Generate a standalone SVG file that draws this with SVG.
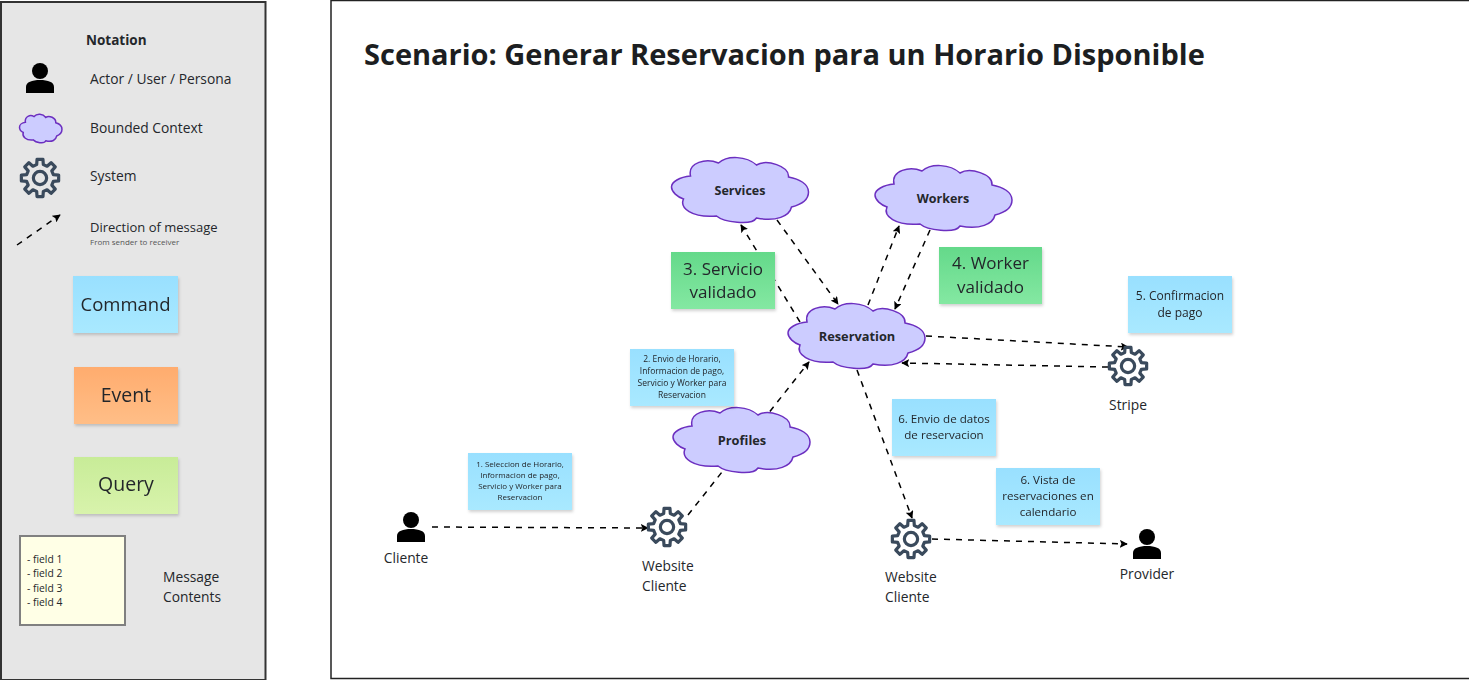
<svg xmlns="http://www.w3.org/2000/svg" width="1469" height="680" viewBox="0 0 1469 680">
<style>
text{font-family:"Open Sans","Noto Sans","Liberation Sans",sans-serif;fill:#24272b}
.b{font-weight:700}
.m{text-anchor:middle}
.t14{font-size:13.800px}
.t13{font-size:13px}
.cloud{fill:#ccccff;stroke:#6c2fc0;stroke-width:1.5;vector-effect:non-scaling-stroke}
.gear{fill:none;stroke:#3a4a5c;stroke-width:3.200;stroke-linejoin:round;vector-effect:non-scaling-stroke}
.c{fill:none;stroke:#000;stroke-width:1.5;stroke-dasharray:6 6;marker-end:url(#ah)}
.note{filter:url(#sh)}
</style>
<defs>
<marker id="ah" viewBox="0 0 10 10" refX="9" refY="5" markerWidth="8" markerHeight="8" markerUnits="userSpaceOnUse" orient="auto"><path d="M0 0L10 5L0 10L2 5Z" fill="#000"/></marker>
<filter id="sh" x="-10%" y="-10%" width="125%" height="125%"><feDropShadow dx="1" dy="2" stdDeviation="1.5" flood-color="#000" flood-opacity=".18"/></filter>
<linearGradient id="gb" x1="0" y1="0" x2="0" y2="1"><stop offset="0" stop-color="#99e0ff"/><stop offset="1" stop-color="#a9e9ff"/></linearGradient>
<linearGradient id="go" x1="0" y1="0" x2="0" y2="1"><stop offset="0" stop-color="#ffac6e"/><stop offset="1" stop-color="#ffbe87"/></linearGradient>
<linearGradient id="gq" x1="0" y1="0" x2="0" y2="1"><stop offset="0" stop-color="#c8ec98"/><stop offset="1" stop-color="#d8f3ac"/></linearGradient>
<linearGradient id="gg" x1="0" y1="0" x2="0" y2="1"><stop offset="0" stop-color="#64d98a"/><stop offset="1" stop-color="#84e8a2"/></linearGradient>
<path id="cl" class="cloud" d="M19 20C8 21 0 26 0 31C0 36 6 41 12 43C8 52 20 62 45 60C52 66 80 70 85 62C105 66 118 60 120 51C132 48 137 42 137 36C137 28 128 23 117 21C118 10 95 3 85 9C75 0 56 -1 47 7C35 2 16 6 19 20Z"/>
<g id="gr" transform="scale(1.020)"><path class="gear" d="M18.27-2.89L18.27 2.89L13.1 3.27L11.57 6.95L14.97 10.87L10.87 14.97L6.95 11.57L3.27 13.1L2.89 18.27L-2.89 18.27L-3.27 13.1L-6.95 11.57L-10.87 14.97L-14.97 10.87L-11.57 6.95L-13.1 3.27L-18.27 2.89L-18.27-2.89L-13.1-3.27L-11.57-6.95L-14.97-10.87L-10.87-14.97L-6.95-11.57L-3.27-13.1L-2.89-18.27L2.89-18.27L3.27-13.1L6.95-11.57L10.87-14.97L14.97-10.87L11.57-6.95L13.1-3.27Z"/><circle class="gear" r="6.5"/></g>
<g id="pr"><circle cx="0" cy="-7" r="8"/><path d="M-14 15V9C-14 4 -8 2 0 2C8 2 14 4 14 9V15Z"/></g>
</defs>
<rect width="1469" height="680" fill="#fff"/>
<g id="legend">
<rect x="1" y="2" width="264.500" height="678" fill="#e6e6e6" stroke="#333" stroke-width="2"/>
<text class="b" font-size="13.500" x="86" y="45">Notation</text>
<use href="#pr" x="40" y="78"/>
<text class="t14" x="90" y="84">Actor / User / Persona</text>
<use href="#cl" transform="translate(19.500 113.500) scale(.31 .44)"/>
<text class="t14" x="90" y="133">Bounded Context</text>
<use href="#gr" x="40" y="178"/>
<text class="t14" x="90" y="181">System</text>
<line class="c" x1="17" y1="245" x2="60" y2="215"/>
<text class="t13" x="90" y="232">Direction of message</text>
<text x="90" y="245" font-size="8" style="fill:#555">From sender to receiver</text>
<g class="note"><rect x="73" y="276" width="105" height="57" fill="url(#gb)"/><text class="m" x="125.500" y="311" font-size="18.500">Command</text></g>
<g class="note"><rect x="74" y="367" width="104" height="57" fill="url(#go)"/><text class="m" x="126" y="402" font-size="19.500">Event</text></g>
<g class="note"><rect x="74" y="457" width="104" height="57" fill="url(#gq)"/><text class="m" x="126" y="491" font-size="19.500">Query</text></g>
<rect x="20" y="536" width="105" height="89" fill="#ffffe6" stroke="#808080" stroke-width="2"/>
<g font-size="10.300"><text x="27" y="563">- field 1</text><text x="27" y="577">- field 2</text><text x="27" y="592">- field 3</text><text x="27" y="606">- field 4</text></g>
<text class="t14" x="163" y="582">Message</text>
<text class="t14" x="163" y="602">Contents</text>
</g>
<rect id="frame" x="331" y="0.500" width="1140" height="678" fill="#fff" stroke="#222" stroke-width="1.500"/>
<text class="b" id="title" x="364" y="65" font-size="29" style="fill:#1c1e21">Scenario: Generar Reservacion para un Horario Disponible</text>
<g id="connectors">
<line class="c" x1="800" y1="322" x2="741" y2="225"/>
<line class="c" x1="777" y1="220" x2="838" y2="304"/>
<line class="c" x1="868" y1="305" x2="899" y2="226"/>
<line class="c" x1="930" y1="230" x2="895" y2="309"/>
<line class="c" x1="926" y1="336" x2="1128" y2="347"/>
<line class="c" x1="1108" y1="367" x2="902" y2="363"/>
<line class="c" x1="857" y1="370" x2="912" y2="518"/>
<line class="c" x1="932" y1="539" x2="1127" y2="544"/>
<line class="c" x1="432" y1="527" x2="648" y2="528"/>
<line class="c" x1="688" y1="515" x2="809" y2="362"/>
</g>
<g id="services"><use href="#cl" x="671.500" y="156"/><text class="b m" x="740" y="195" font-size="12.500">Services</text></g>
<g id="workers"><use href="#cl" x="875" y="164"/><text class="b m" x="943" y="203" font-size="12.500">Workers</text></g>
<g id="reservation"><use href="#cl" x="788" y="302"/><text class="b m" x="857" y="341" font-size="12.800">Reservation</text></g>
<g id="profiles"><use href="#cl" x="673" y="406"/><text class="b m" x="742" y="445" font-size="12.800">Profiles</text></g>
<g id="cliente"><use href="#pr" x="411" y="527"/><text class="t14 m" x="406" y="563">Cliente</text></g>
<g id="website1"><use href="#gr" x="667" y="527"/><text class="t14" x="642" y="571">Website</text><text class="t14" x="642" y="591">Cliente</text></g>
<g id="website2"><use href="#gr" x="911" y="539"/><text class="t14" x="885" y="582">Website</text><text class="t14" x="885" y="602">Cliente</text></g>
<g id="stripe"><use href="#gr" x="1128" y="366"/><text class="t14 m" x="1128" y="410">Stripe</text></g>
<g id="provider"><use href="#pr" x="1147" y="544"/><text class="t14 m" x="1147" y="579">Provider</text></g>
<g id="note3" class="note"><rect x="671" y="252" width="104" height="57" fill="url(#gg)"/><text class="m" x="723" y="275" font-size="17">3. Servicio</text><text class="m" x="723" y="298" font-size="17">validado</text></g>
<g id="note4" class="note"><rect x="939" y="247" width="103" height="57" fill="url(#gg)"/><text class="m" x="990.500" y="269" font-size="17">4. Worker</text><text class="m" x="990.500" y="293" font-size="17">validado</text></g>
<g id="note5" class="note" font-size="12"><rect x="1128" y="276" width="104" height="57" fill="url(#gb)"/><text class="m" x="1180" y="300">5. Confirmacion</text><text class="m" x="1180" y="317">de pago</text></g>
<g id="note2" class="note" font-size="8.500"><rect x="630" y="349" width="104" height="57" fill="url(#gb)"/><text class="m" x="682" y="362">2. Envio de Horario,</text><text class="m" x="682" y="374">Informacion de pago,</text><text class="m" x="682" y="386">Servicio y Worker para</text><text class="m" x="682" y="398">Reservacion</text></g>
<g id="note6a" class="note" font-size="11.600"><rect x="892" y="399" width="104" height="57" fill="url(#gb)"/><text class="m" x="944" y="423">6. Envio de datos</text><text class="m" x="944" y="439">de reservacion</text></g>
<g id="note6b" class="note" font-size="11.600"><rect x="996" y="468" width="104" height="57" fill="url(#gb)"/><text class="m" x="1048" y="484">6. Vista de</text><text class="m" x="1048" y="500">reservaciones en</text><text class="m" x="1048" y="516">calendario</text></g>
<g id="note1" class="note" font-size="8"><rect x="468" y="453" width="104" height="57" fill="url(#gb)"/><text class="m" x="520" y="467">1. Seleccion de Horario,</text><text class="m" x="520" y="478">Informacion de pago,</text><text class="m" x="520" y="489">Servicio y Worker para</text><text class="m" x="520" y="500">Reservacion</text></g>
</svg>
